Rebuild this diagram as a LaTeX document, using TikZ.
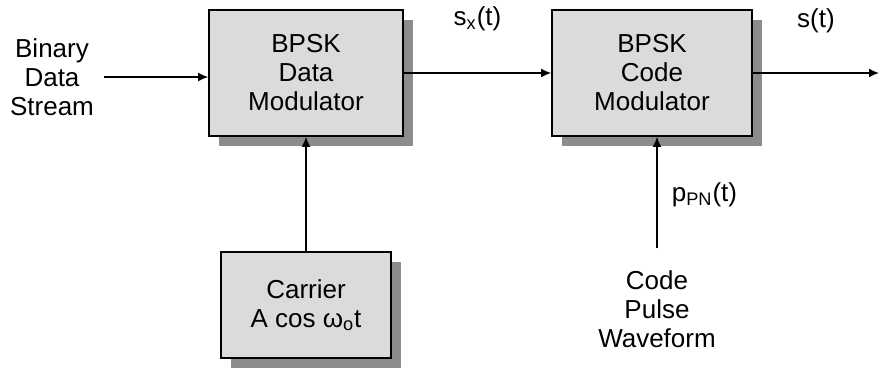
\documentclass[tikz,border=0pt]{standalone}
\usepackage{fontspec}
\setmainfont{Liberation Sans}
\usetikzlibrary{arrows.meta,shadows,positioning}

\begin{document}
\begin{tikzpicture}[x=0.5pt, y=-0.5pt,
    every node/.style={font=\fontsize{13}{14.5}\selectfont},
    box/.style={rectangle, draw, thick, fill=black!14, align=center,
        drop shadow={shadow xshift=5pt, shadow yshift=-5pt, fill=black!45, opacity=1}},
    txt/.style={align=center, inner sep=2pt},
    arrow/.style={-{Latex[length=5pt,width=4.5pt]}, thick},
    label/.style={inner sep=1pt}
]
\useasboundingbox (0,0) rectangle (880,368);

% Nodes
\node[box, minimum width=97pt,  minimum height=63pt] (dmod) at (306,73)  {BPSK\\Data\\Modulator};
\node[box, minimum width=100pt, minimum height=63pt] (cmod) at (652,73)  {BPSK\\Code\\Modulator};
\node[box, minimum width=85pt,  minimum height=53pt] (car)  at (306,305) {Carrier\\A cos ω\textsubscript{o}t};
\node[txt] (bin)  at (52,77)   {Binary\\Data\\Stream};
\node[txt] (wave) at (657,309) {Code\\Pulse\\Waveform};
\coordinate (out) at (879,73);

% Arrows
\draw[arrow, shorten <=3pt] (bin.east) -- (bin.east -| dmod.west);
\draw[arrow] (dmod) -- node[label, midway, yshift=27pt] {s\textsubscript{x}(t)} (cmod);
\draw[arrow] (cmod) -- node[label, midway, yshift=26pt] {s(t)} (out);
\draw[arrow] (car) -- (dmod);
\draw[arrow, shorten <=9pt] (wave.north) -- node[label, pos=0.55, right=6pt] {p\textsubscript{PN}(t)} (wave.north |- cmod.south);

\end{tikzpicture}
\end{document}
